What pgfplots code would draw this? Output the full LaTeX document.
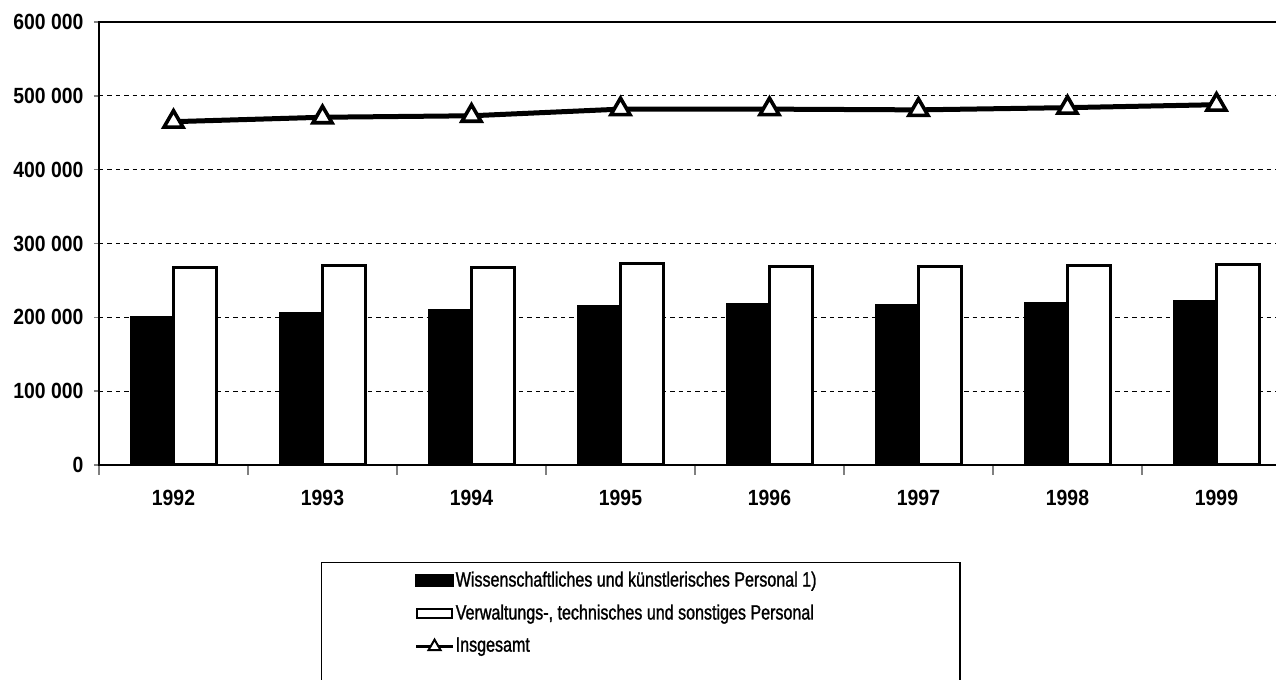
\documentclass[border=0pt]{standalone}
\usepackage{fontspec}
\setmainfont{Liberation Sans}
\newfontfamily\legfont[FakeStretch=0.78,FakeBold=1.2]{Liberation Sans}
\newfontfamily\tickfont[FakeStretch=0.88]{Liberation Sans}
\usepackage{pgfplots}
\pgfplotsset{compat=1.18}
\begin{document}
\begin{tikzpicture}
\useasboundingbox (0,0) rectangle (638pt,340pt);
\begin{axis}[
  at={(49.5pt,107.5pt)}, anchor=south west,
  scale only axis, width=596pt, height=221.5pt,
  xmin=-0.5, xmax=7.5, ymin=0, ymax=600000,
  xtick={0,1,2,3,4,5,6,7},
  xticklabels={1992,1993,1994,1995,1996,1997,1998,1999},
  minor xtick={-0.5,0.5,1.5,2.5,3.5,4.5,5.5,6.5,7.5},
  major x tick style={draw=none},
  minor x tick style={line width=0.8pt},
  minor tick length=5pt,
  ytick={0,100000,200000,300000,400000,500000,600000},
  yticklabels={0,100~000,200~000,300~000,400~000,500~000,600~000},
  scaled y ticks=false,
  y tick style={line width=0.8pt},
  tick align=outside,
  major tick length=2.5pt,
  xtick pos=bottom, ytick pos=left,
  tick label style={font=\tickfont\fontsize{11}{12}\selectfont\bfseries},
  xticklabel style={yshift=-6.5pt},
  yticklabel style={xshift=-1.8pt},
  axis line style={line width=1.3pt},
  ymajorgrids,
  grid style={black, line width=0.6pt, dash pattern=on 2.2pt off 2pt},
  legend style={at={(0.1862,-0.219)}, anchor=north west, draw=black, line width=0.6pt,
    inner xsep=46.5pt, inner ysep=2.5pt, row sep=3.5pt,
    nodes={inner xsep=0.6pt},
    font=\legfont\fontsize{10.3}{11}\selectfont},
  legend cell align=left,
]
\addplot[ybar, bar width=21.5pt, bar shift=-10.75pt, fill=black, draw=black, line width=0.6pt,
  legend image code/.code={\fill[black] (0pt,-2.75pt) rectangle (18.5pt,2.75pt);}]
  coordinates {(0,201000) (1,207000) (2,211000) (3,216000) (4,218000) (5,217000) (6,220000) (7,222000)};
\addlegendentry{\makebox[205pt][l]{Wissenschaftliches und künstlerisches Personal 1)}}
\addplot[ybar, bar width=21.5pt, bar shift=10.75pt, fill=white, draw=black, line width=1.6pt,
  legend image code/.code={\draw[black, line width=1pt, fill=white] (0.5pt,-2.3pt) rectangle (18pt,2.3pt);}]
  coordinates {(0,268000) (1,270000) (2,268000) (3,273000) (4,269000) (5,269000) (6,270000) (7,272000)};
\addlegendentry{\makebox[205pt][l]{Verwaltungs-, technisches und sonstiges Personal}}
\addplot[black, line width=2.5pt, mark=triangle*, mark size=5.5pt,
  mark options={fill=white, draw=black, line width=1.8pt},
  legend image code/.code={\draw[black, line width=1.5pt] (0pt,0pt) -- (18.5pt,0pt);
     \draw[black, line width=1pt, fill=white] (9.25pt,0pt) +(-3pt,-2pt) -- +(3pt,-2pt) -- +(0pt,3.2pt) -- cycle;}]
  coordinates {(0,465000) (1,471000) (2,473000) (3,482000) (4,482000) (5,481000) (6,484000) (7,488000)};
\addlegendentry{\makebox[205pt][l]{Insgesamt}}
\addlegendimage{empty legend}
\addlegendentry{}
\end{axis}
\end{tikzpicture}
\end{document}
